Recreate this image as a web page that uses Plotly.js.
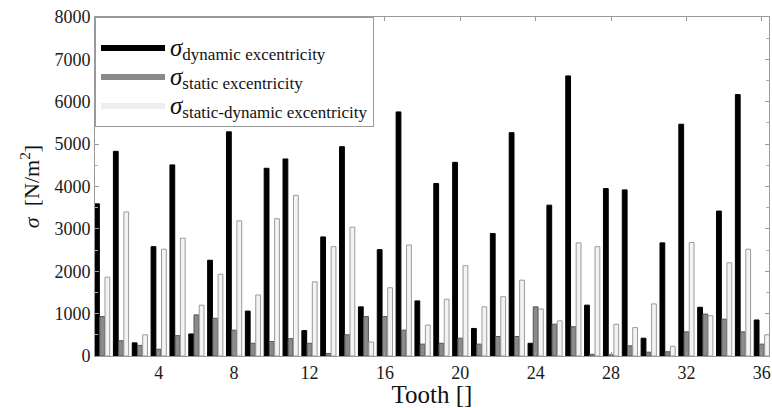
<!DOCTYPE html>
<html>
<head>
<meta charset="utf-8">
<script src="https://cdn.plot.ly/plotly-3.0.1.min.js"></script>
<style>html,body{margin:0;padding:0;background:#fff;}#chart{width:772px;height:408px;}</style>
</head>
<body>
<div id="chart"></div>
<script>
var teeth = [];
for (var i = 1; i <= 36; i++) teeth.push(i);

var dynamicEcc = [3590, 4830, 310, 2580, 4510, 520, 2260, 5290, 1060, 4430, 4650, 600,
                  2810, 4940, 1160, 2510, 5760, 1300, 4070, 4570, 650, 2890, 5270, 300,
                  3560, 6610, 1200, 3950, 3920, 420, 2670, 5470, 1150, 3420, 6170, 850];
var staticEcc = [930, 360, 250, 160, 480, 970, 890, 610, 300, 340, 410, 300,
                 60, 500, 930, 930, 610, 280, 300, 420, 280, 460, 460, 1160,
                 750, 690, 40, 30, 240, 90, 100, 570, 990, 870, 570, 280];
var staticDynamicEcc = [1860, 3400, 500, 2520, 2780, 1200, 1930, 3190, 1440, 3240, 3790, 1750,
                        2580, 3040, 330, 1610, 2620, 730, 1340, 2130, 1160, 1400, 1790, 1110,
                        830, 2670, 2580, 750, 670, 1230, 230, 2680, 950, 2200, 2520, 500];

var xTicks = [4, 8, 12, 16, 20, 24, 28, 32, 36];
var subs = ['dynamic excentricity', 'static excentricity', 'static-dynamic excentricity'];
var seriesNames = subs.map(function (t) {
  return '<span style="font-size:25px"><i>σ</i></span><sub><span style="font-size:17px">' + t + '</span></sub>';
});

var fills = ['#000000', '#8a8a8a', '#f3f3f3'];
var outlines = ['#000000', '#555555', '#9a9a9a'];
var legendLine = ['#000000', '#8a8a8a', '#eeeeee'];
var values = [dynamicEcc, staticEcc, staticDynamicEcc];

var traces = [];
for (var s = 0; s < 3; s++) {
  traces.push({
    type: 'bar', x: teeth, y: values[s], name: subs[s],
    showlegend: false,
    marker: {color: fills[s], line: {color: outlines[s], width: 1}}
  });
}
for (var s = 0; s < 3; s++) {
  traces.push({
    type: 'scatter', mode: 'lines', x: [null], y: [null], name: seriesNames[s],
    line: {color: legendLine[s], width: 6}, hoverinfo: 'skip'
  });
}

var serif = "'Liberation Serif', 'Times New Roman', Times, serif";
var layout = {
  width: 772, height: 408,
  margin: {l: 95, r: 3, t: 17, b: 52},
  paper_bgcolor: '#ffffff', plot_bgcolor: '#ffffff',
  barmode: 'group', bargap: 0.17, bargroupgap: 0.08,
  font: {family: serif, color: '#1a1a1a', size: 18},
  showlegend: true,
  legend: {
    x: 0, y: 1, xanchor: 'left', yanchor: 'top',
    bgcolor: '#ffffff', bordercolor: '#9a9a9a', borderwidth: 1,
    font: {family: serif, size: 20, color: '#111'},
    title: {text: ' ', font: {size: 8}},
    itemwidth: 64, tracegroupgap: 0
  },
  xaxis: {
    range: [0.62, 36.38],
    tickmode: 'array', tickvals: xTicks, ticktext: xTicks.map(String),
    showgrid: false, zeroline: false,
    showline: true, linecolor: '#9a9a9a', linewidth: 1, mirror: 'ticks',
    ticks: 'inside', ticklen: 4, tickcolor: '#9a9a9a',
    tickfont: {family: serif, size: 18, color: '#1a1a1a'},
    title: {text: 'Tooth []', font: {family: serif, size: 25, color: '#111'}, standoff: 2}
  },
  yaxis: {
    range: [0, 8000], dtick: 1000, tick0: 0,
    showgrid: false, zeroline: false,
    showline: true, linecolor: '#9a9a9a', linewidth: 1, mirror: 'ticks',
    ticks: 'inside', ticklen: 4, tickcolor: '#9a9a9a',
    minor: {dtick: 500, ticks: 'inside', ticklen: 3, tickcolor: '#b0b0b0'},
    tickfont: {family: serif, size: 18, color: '#1a1a1a'},
    title: {text: '<i>σ</i>  [N/m<sup>2</sup>]', font: {family: serif, size: 22, color: '#111'}, standoff: 8}
  }
};

Plotly.newPlot('chart', traces, layout, {displayModeBar: false, staticPlot: true});
</script>
</body>
</html>
